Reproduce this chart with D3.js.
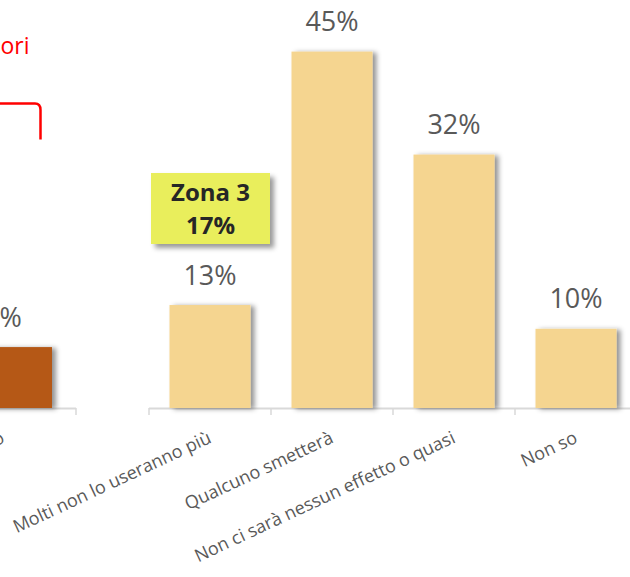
<!DOCTYPE html>
<html>
<head>
<meta charset="utf-8">
<script src="https://cdn.jsdelivr.net/npm/d3@7"></script>
<style>
  html, body { margin: 0; padding: 0; background: #ffffff; }
  svg { display: block; }
</style>
</head>
<body>
<div id="chart"></div>
<script>
// Answer categories shared by both zone charts
const categories = ["Molti non lo useranno più", "Qualcuno smetterà", "Non ci sarà nessun effetto o quasi", "Non so"];
// Zona 3 answer shares (%)
const zona3Values = [13, 45, 32, 10];
// Neighbouring zone: only its last answer falls inside the frame
const leftCategories = ["Non so"];
const leftValues = [8];
// Callout and annotation text
const calloutLines = ["Zona 3", "17%"];
const noteText = "ori";

const W = 630, H = 577;
const barColor = "#F5D590";
const leftBarColor = "#B55816";
const labelColor = "#595959";
const axisColor = "#D9D9D9";

const svg = d3.select("#chart").append("svg")
  .attr("width", W).attr("height", H)
  .style("font-family", "'Open Sans', sans-serif");

const defs = svg.append("defs");
defs.append("filter").attr("id", "barShadow")
  .attr("x", "-20%").attr("y", "-10%").attr("width", "150%").attr("height", "130%")
  .append("feDropShadow")
  .attr("dx", 4).attr("dy", 1).attr("stdDeviation", 2.6)
  .attr("flood-color", "#000").attr("flood-opacity", 0.42);
defs.append("filter").attr("id", "boxShadow")
  .attr("x", "-20%").attr("y", "-20%").attr("width", "150%").attr("height", "150%")
  .append("feDropShadow")
  .attr("dx", 4).attr("dy", 4).attr("stdDeviation", 2.5)
  .attr("flood-color", "#000").attr("flood-opacity", 0.4);

const baseY = 408;

// Draws one zone chart: bars, value labels, baseline with band ticks, rotated category labels
function drawZone(g, cats, vals, x, y, color) {
  const [r0, r1] = x.range();
  g.append("line")
    .attr("x1", r0).attr("x2", r1)
    .attr("y1", baseY + 0.5).attr("y2", baseY + 0.5)
    .attr("stroke", axisColor).attr("stroke-width", 2);
  // band boundaries (inner padding is twice the outer one, so they fall on whole steps)
  const step = x.step();
  g.selectAll(".tick").data(d3.range(cats.length + 1)).join("line")
    .attr("x1", i => r0 + i * step).attr("x2", i => r0 + i * step)
    .attr("y1", baseY).attr("y2", baseY + 7)
    .attr("stroke", axisColor).attr("stroke-width", 1.5);

  g.selectAll(".bar").data(vals).join("rect")
    .attr("x", (d, i) => x(cats[i]))
    .attr("y", d => y(d))
    .attr("width", x.bandwidth())
    .attr("height", d => y(0) - y(d))
    .attr("fill", color)
    .attr("filter", "url(#barShadow)");

  g.selectAll(".val").data(vals).join("text")
    .attr("x", (d, i) => x(cats[i]) + x.bandwidth() / 2)
    .attr("y", d => y(d) - 20.5)
    .attr("text-anchor", "middle")
    .attr("fill", labelColor)
    .style("font-size", "27px")
    .text(d => d + "%");

  g.selectAll(".cat").data(cats).join("text")
    .attr("transform", d => `translate(${x(d) + x.bandwidth() / 2 + 2.5},${baseY + 34}) rotate(-25)`)
    .attr("text-anchor", "end")
    .attr("fill", labelColor)
    .style("font-size", "18px")
    .text(d => d);
}

// Zona 3 chart
const x3 = d3.scaleBand().domain(categories).range([149, 637])
  .paddingInner(0.336).paddingOuter(0.168);
const y3 = d3.scaleLinear().domain([0, 50]).range([baseY, 12]);
drawZone(svg.append("g"), categories, zona3Values, x3, y3, barColor);

// Neighbouring zone chart (mostly outside the frame)
const xL = d3.scaleBand().domain(leftCategories).range([-70, 76])
  .paddingInner(0.3288).paddingOuter(0.1644);
const yL = d3.scaleLinear().domain([0, 52]).range([baseY, 12]);
drawZone(svg.append("g"), leftCategories, leftValues, xL, yL, leftBarColor);

// Callout box above the first bar
const box = svg.append("g");
box.append("rect")
  .attr("x", 151).attr("y", 173).attr("width", 119).attr("height", 71)
  .attr("fill", "#E9EE5B")
  .attr("filter", "url(#boxShadow)");
box.selectAll("text").data(calloutLines).join("text")
  .attr("x", 210.5)
  .attr("y", (d, i) => 201 + i * 33)
  .attr("text-anchor", "middle")
  .attr("fill", "#262626")
  .style("font-size", "24px")
  .style("font-weight", "bold")
  .text(d => d);

// Red annotation text and bracket
svg.append("text")
  .attr("x", 29.5).attr("y", 54)
  .attr("text-anchor", "end")
  .attr("fill", "#FF0000")
  .style("font-size", "23px")
  .text(noteText);
svg.append("path")
  .attr("d", "M-5,103.5 H35 Q40.5,103.5 40.5,110 V139.5")
  .attr("fill", "none")
  .attr("stroke", "#FF0000")
  .attr("stroke-width", 2.5);
</script>
</body>
</html>
